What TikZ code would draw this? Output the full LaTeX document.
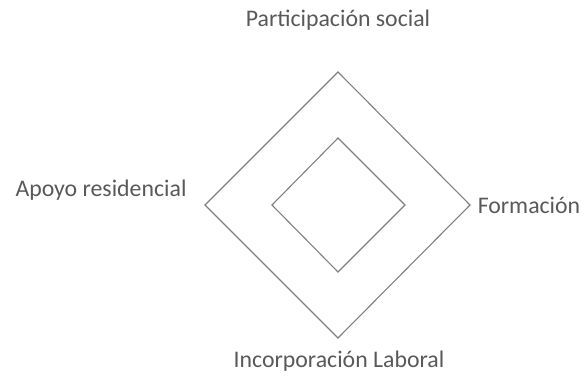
\documentclass[tikz,border=0pt]{standalone}
\usepackage{fontspec}
\setmainfont{Carlito}
\usetikzlibrary{positioning}
\definecolor{txtgray}{RGB}{89,89,89}
\definecolor{linegray}{RGB}{128,128,128}
\tikzset{
  rombo/.style={draw=linegray, line width=1.1pt, line join=miter},
  etiq/.style={font=\fontsize{23.8}{28}\selectfont, text=txtgray, inner sep=0pt},
}
\begin{document}
\begin{tikzpicture}[x=1pt,y=-1pt]
  \useasboundingbox (0,0) rectangle (586,377);

  % rombo exterior e interior
  \coordinate (oN) at (338,72);
  \coordinate (oE) at (470,205);
  \coordinate (oS) at (338,338);
  \coordinate (oW) at (205,205);
  \coordinate (iN) at (338,138);
  \coordinate (iE) at (405,205);
  \coordinate (iS) at (338,272);
  \coordinate (iW) at (272,205);
  \draw[rombo] (oN) -- (oE) -- (oS) -- (oW) -- cycle;
  \draw[rombo] (iN) -- (iE) -- (iS) -- (iW) -- cycle;

  % etiquetas
  \node[etiq] (participacion) at (338,20) {Participación social};
  \node[etiq] (apoyo) at (101,190) {Apoyo residencial};
  \node[etiq] (formacion) at (529,205) {Formación};
  \node[etiq] (incorporacion) at (339,361) {Incorporación Laboral};
\end{tikzpicture}
\end{document}
